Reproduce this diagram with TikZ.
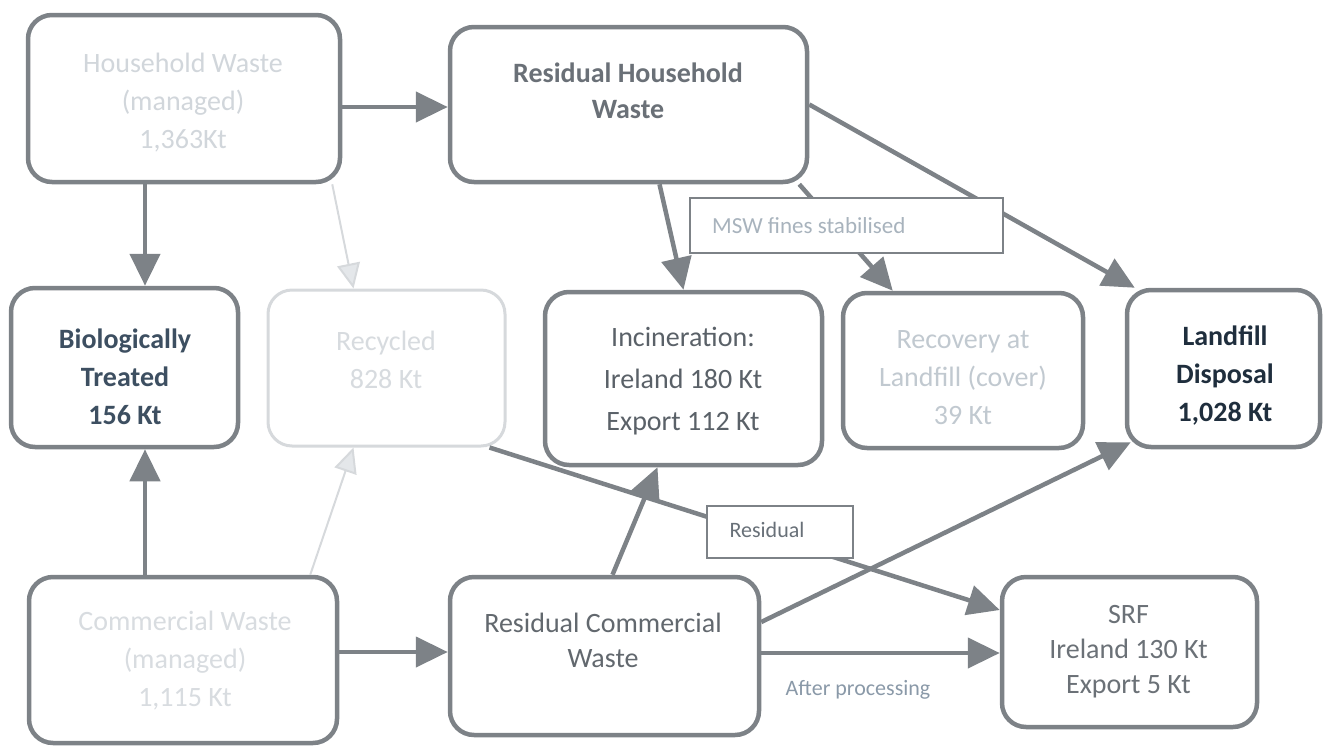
\documentclass[tikz,border=0pt]{standalone}
\usepackage{fontspec}
\setmainfont{Carlito}
\usetikzlibrary{arrows.meta}

\definecolor{edgegray}{HTML}{7D8287}
\definecolor{faintedge}{HTML}{D6D9DC}
\definecolor{faintfill}{HTML}{E4E7EA}
\definecolor{hwtext}{HTML}{D1D6DB}
\definecolor{rhwtext}{HTML}{6A7077}
\definecolor{biotext}{HTML}{3D4F61}
\definecolor{rectext}{HTML}{D7DBDF}
\definecolor{inctext}{HTML}{5A6168}
\definecolor{covtext}{HTML}{C1C9D0}
\definecolor{landtext}{HTML}{1F2E3D}
\definecolor{comtext}{HTML}{D8DCE0}
\definecolor{rcwtext}{HTML}{62686E}
\definecolor{srftext}{HTML}{6B7177}
\definecolor{mswtext}{HTML}{A8B3BD}
\definecolor{restext}{HTML}{687078}
\definecolor{proctext}{HTML}{8A99A8}

\begin{document}
\begin{tikzpicture}[x=1pt,y=-1pt,
  box/.style={draw=edgegray, fill=white, line width=4.5pt, rounded corners=24pt,
    inner sep=0pt, minimum width=#1},
  faintbox/.style={box=#1, draw=faintedge, line width=3pt},
  txt/.style={align=center, inner sep=0pt, font=\fontsize{28}{38}\selectfont},
  conn/.style={draw=edgegray, line width=4.5pt,
    -{Triangle[length=32pt,width=30pt]}},
  faintconn/.style={draw=faintedge, line width=2pt,
    -{Triangle[length=25pt,width=23pt,fill=faintfill]}},
  lblbox/.style={draw=edgegray, fill=white, line width=2pt, inner sep=0pt},
  lbl/.style={inner sep=0pt, font=\fontsize{22}{26}\selectfont}
]
\useasboundingbox (0,0) rectangle (1323,745);

% ---- boxes ----
\node[box=312pt, minimum height=167pt] (hw)   at (184,98.5)    {};
\node[box=357pt, minimum height=155pt] (rhw)  at (628.5,104.5) {};
\node[box=227pt, minimum height=159pt] (bio)  at (124.5,367.5) {};
\node[faintbox=237pt, minimum height=156pt] (rec) at (386.5,368) {};
\node[box=277pt, minimum height=173pt] (inc)  at (683.5,378.5) {};
\node[box=240pt, minimum height=155pt] (cov)  at (963,370.5)   {};
\node[box=193pt, minimum height=157pt] (land) at (1223.5,368.5) {};
\node[box=308pt, minimum height=166pt] (com)  at (183,660)     {};
\node[box=309pt, minimum height=158pt] (rcw)  at (604.5,656)   {};
\node[box=255pt, minimum height=150pt] (srf)  at (1129.5,652)  {};

% ---- box texts ----
\node[txt, text=hwtext]   (hwt)   at (183,103)  {Household Waste\\(managed)\\1,363Kt};
\node[txt, text=rhwtext, font=\fontsize{28}{36}\selectfont\bfseries] (rhwt) at (628,90.5) {Residual Household\\Waste};
\node[txt, text=biotext, font=\fontsize{28}{38}\selectfont\bfseries] (biot) at (125,377) {Biologically\\Treated\\156 Kt};
\node[txt, text=rectext]  (rect)  at (386,360)  {Recycled\\828 Kt};
\node[txt, text=inctext, font=\fontsize{28}{42}\selectfont] (inct) at (683,381) {Incineration:\\Ireland 180 Kt\\Export 112 Kt};
\node[txt, text=covtext]  (covt)  at (963,378)  {Recovery at\\Landfill (cover)\\39 Kt};
\node[txt, text=landtext, font=\fontsize{28}{38}\selectfont\bfseries] (landt) at (1225,376) {Landfill\\Disposal\\1,028 Kt};
\node[txt, text=comtext]  (comt)  at (185,661)  {Commercial Waste\\(managed)\\1,115 Kt};
\node[txt, text=rcwtext, font=\fontsize{28}{35}\selectfont] (rcwt) at (603,640) {Residual Commercial\\Waste};
\node[txt, text=srftext, font=\fontsize{28}{35}\selectfont] (srft) at (1128.5,652) {SRF\\Ireland 130 Kt\\Export 5 Kt};

% ---- connectors ----
\draw[conn] ([yshift=-8.5pt]hw.east) -- ([yshift=-8.5pt]hw.east -| rhw.west);
\draw[conn] ([xshift=-39pt]hw.south) -- ([xshift=-39pt]hw.south |- bio.north);
\draw[faintconn] ([xshift=-10pt]hw.south east) -- ([xshift=-33pt]rec.north);
\draw[conn] ([xshift=31pt]rhw.south) -- (inc.north);
\draw[conn] ([xshift=-10pt]rhw.south east) -- ([xshift=52pt]cov.north west);
\draw[conn] (rhw.east) -- ([xshift=10pt]land.north west);
\draw[conn] ([xshift=-38pt]com.north) -- ([xshift=-38pt]com.north |- bio.south);
\draw[faintconn] ([xshift=-29pt]com.north east) -- ([xshift=-33pt]rec.south);
\draw[conn] ([yshift=8pt]com.east) -- ([yshift=8pt]com.east -| rcw.west);
\draw[conn] ([xshift=8pt]rcw.north) -- ([xshift=-26pt]inc.south);
\draw[conn] ([yshift=34pt]rcw.east) -- ([xshift=6pt,yshift=7pt]land.south west);
\draw[conn] ([yshift=3pt]rcw.east) -- ([yshift=3pt]rcw.east -| srf.west);
\draw[conn] ([xshift=-17pt]rec.south east) -- ([yshift=42pt]srf.west);

% ---- connector labels ----
\node[lblbox, minimum width=313pt, minimum height=55pt] (msw) at (846.5,225.5) {};
\node[lbl, text=mswtext, anchor=west, font=\fontsize{23}{26}\selectfont] (mswt) at (712,226) {MSW fines stabilised};
\node[lblbox, minimum width=146pt, minimum height=52pt] (res) at (780,532) {};
\node[lbl, text=restext] (rest) at (767,530) {Residual};
\node[lbl, text=proctext] (proc) at (858,690) {After processing};
\end{tikzpicture}
\end{document}
